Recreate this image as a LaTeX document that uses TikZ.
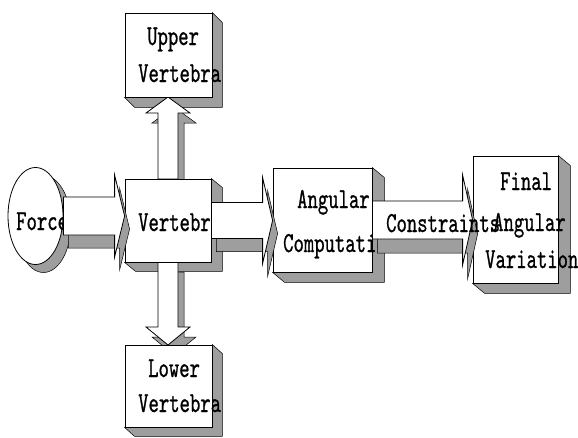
\documentclass[tikz,border=0pt]{standalone}
\usepackage{fontspec}
\newfontfamily\courf[FakeStretch=0.68,FakeBold=0.7]{lmmono10-regular.otf}
\usetikzlibrary{calc,shapes.geometric,backgrounds}

\newcommand\extrude[3]{%
  \path[extr] (#1.north east) -- ++(#2,#3) -- ($(#1.south east)+(#2,#3)$)
    -- ($(#1.south west)+(#2,#3)$) -- (#1.south west) -- (#1.south east) -- cycle;}

% horizontal block arrow path: style, from, to, body half, head half, head length, offset x, offset y (canvas)
\newcommand\harrowp[8]{%
  \path[#1] let \p1=(#2.east), \p2=(#3.west) in
    (\x1+#7,\y1+#4+#8) -- (\x2-#6+#7,\y1+#4+#8) -- (\x2-#6+#7,\y1+#5+#8) -- (\x2+#7,\y1+#8)
    -- (\x2-#6+#7,\y1-#5+#8) -- (\x2-#6+#7,\y1-#4+#8) -- (\x1+#7,\y1-#4+#8) -- cycle;}
\newcommand\harrow[7]{%
  \harrowp{extr}{#1}{#2}{#3}{#4}{#5}{#6}{-#7}%
  \harrowp{arrface}{#1}{#2}{#3}{#4}{#5}{0pt}{0pt}}

% vertical block arrow path: style, from, to, body half, head half, head offset (canvas, signed), offset x, offset y
\newcommand\varrowp[8]{%
  \path[#1] let \p1=(#2), \p2=(#3) in
    (\x1-#4+#7,\y1+#8) -- (\x1-#4+#7,\y2+#6+#8) -- (\x1-#5+#7,\y2+#6+#8) -- (\x1+#7,\y2+#8)
    -- (\x1+#5+#7,\y2+#6+#8) -- (\x1+#4+#7,\y2+#6+#8) -- (\x1+#4+#7,\y1+#8) -- cycle;}
\newcommand\varrow[7]{%
  \varrowp{extr}{#1}{#2}{#3}{#4}{#5}{#6}{-#7}%
  \varrowp{arrface}{#1}{#2}{#3}{#4}{#5}{0pt}{0pt}}

\begin{document}
\begin{tikzpicture}[x=1pt,y=-1pt,
  box/.style={draw=black, fill=white, line width=0.8pt, inner sep=0pt, rectangle},
  extr/.style={fill=black!38, draw=black, line width=0.5pt, line join=miter},
  arrface/.style={fill=white, draw=black, line width=0.8pt, line join=miter},
  txt/.style={font=\courf\fontsize{29}{36}\selectfont, inner sep=0pt, anchor=base west}]
\useasboundingbox (0,0) rectangle (578,437);

% vertical arrows (behind boxes)
\coordinate (vtop) at (168,179);
\coordinate (vbot) at (168,262);
\coordinate (utip) at (168,97);
\coordinate (ltip) at (168,345);
\varrow{vtop}{utip}{10pt}{22pt}{-16pt}{6pt}{10pt}
\varrow{vbot}{ltip}{10pt}{22pt}{18pt}{6pt}{10pt}

% boxes
\node[box, minimum width=87pt, minimum height=84pt] (upper) at (168.5,55) {};
\node[box, minimum width=86pt, minimum height=83pt] (vert) at (168,220.5) {};
\node[box, minimum width=87pt, minimum height=82pt] (lower) at (168.5,386) {};
\node[box, minimum width=99pt, minimum height=104pt] (angular) at (322.5,220) {};
\node[box, minimum width=85pt, minimum height=127pt] (final) at (515.5,219.5) {};
\node[box, ellipse, minimum width=55pt, minimum height=97pt] (force) at (35.5,216) {};

\begin{pgfonlayer}{background}
  \extrude{upper}{10}{10}
  \extrude{vert}{11}{9}
  \extrude{lower}{10}{9}
  \extrude{angular}{12}{10}
  \extrude{final}{12}{10}
  \node[extr, ellipse, minimum width=55pt, minimum height=97pt, inner sep=0pt] (forceshadow)
    at ($(force.center)+(8,8)$) {};
\end{pgfonlayer}

% texts
\node[txt] (tforce) at (16,230) {Force};
\node[txt] (tup1) at (147,45) {Upper};
\node[txt] (tup2) at (138,82) {Vertebra};
\node[txt] (tvert) at (138,231) {Vertebra};
\node[txt] (tlow1) at (148,377) {Lower};
\node[txt] (tlow2) at (138,412) {Vertebra};
\node[txt] (tang1) at (297,208) {Angular};
\node[txt] (tang2) at (283,252) {Computation};
\node[txt] (tfin1) at (500,190) {Final};
\node[txt] (tfin2) at (493,231) {Angular};
\node[txt] (tfin3) at (485,268) {Variation};

% horizontal arrows
\harrow{force}{vert}{19pt}{41pt}{10pt}{5pt}{13pt}
\harrow{vert}{angular}{18pt}{43pt}{10pt}{5pt}{13pt}
\harrow{angular}{final}{19pt}{45pt}{10pt}{5pt}{14pt}

\node[txt] (tcons) at (386,232) {Constraints};
\end{tikzpicture}
\end{document}
